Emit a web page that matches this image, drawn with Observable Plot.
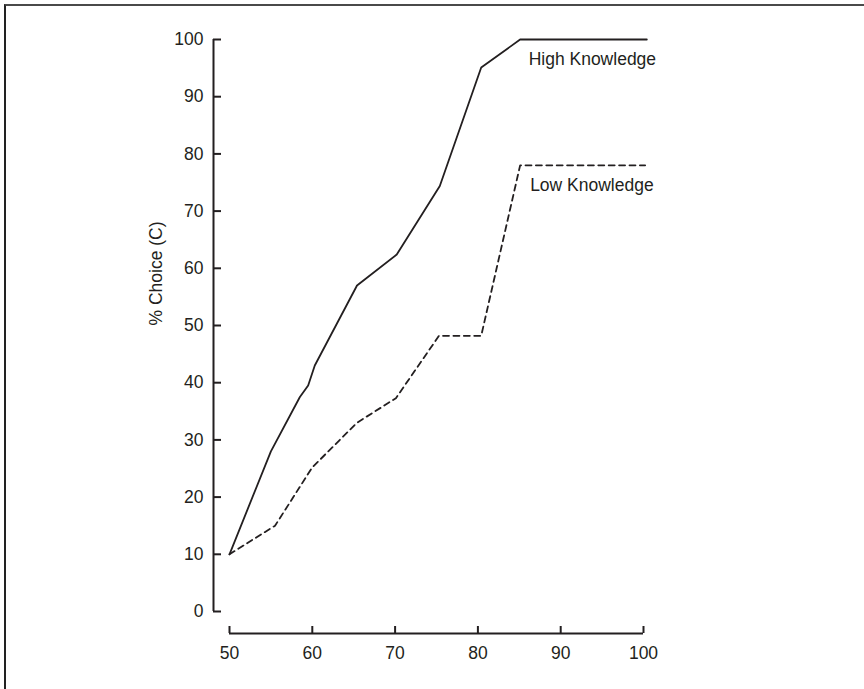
<!DOCTYPE html>
<html>
<head>
<meta charset="utf-8">
<script src="https://cdn.jsdelivr.net/npm/d3@7"></script>
<script src="https://cdn.jsdelivr.net/npm/@observablehq/plot@0.6"></script>
<style>
  html, body { margin: 0; padding: 0; background: #fff; }
  #wrap { position: relative; width: 864px; height: 689px; overflow: hidden; background: #fff; }
  #frame { position: absolute; left: 4px; top: 4px; width: 1000px; height: 1000px;
           border-top: 2px solid #4a4a4a; border-left: 2px solid #222; }
  #chart { position: absolute; left: 0; top: 0; }
</style>
</head>
<body>
<div id="wrap"><div id="frame"></div><div id="chart"></div></div>
<script>
// Data
const xTicks = [50, 60, 70, 80, 90, 100];
const yTicks = [0, 10, 20, 30, 40, 50, 60, 70, 80, 90, 100];
const yLabel = "% Choice (C)";

const highName = "High Knowledge";
const highX = [50, 55, 58.5, 59.5, 60.3, 65.4, 70.2, 75.4, 80.4, 85.1, 100.4];
const highY = [10, 28, 37.5, 39.5, 43, 57, 62.4, 74.4, 95.1, 100, 100];

const lowName = "Low Knowledge";
const lowX = [50, 55.5, 60, 65.4, 70.1, 75.3, 80.4, 85.1, 100.2];
const lowY = [10, 15, 25.2, 33, 37.3, 48.2, 48.2, 78, 78];

const high = highX.map((x, i) => ({x, y: highY[i]}));
const low = lowX.map((x, i) => ({x, y: lowY[i]}));
// label anchors: start of each plateau
const highLabel = [{name: highName, x: highX[9], y: highY[9]}];
const lowLabel = [{name: lowName, x: lowX[7], y: lowY[7]}];

const ink = "#231f20";
const font = "Liberation Sans, Arial, Helvetica, sans-serif";
const fs = 17.5;

const chart = Plot.plot({
  width: 864,
  height: 689,
  marginLeft: 229,
  marginRight: 221,
  marginTop: 39,
  marginBottom: 78,
  style: {fontFamily: font, fontSize: fs + "px", color: ink, background: "transparent"},
  x: {domain: [xTicks[0], xTicks[xTicks.length - 1]], axis: null},
  y: {domain: [yTicks[0], yTicks[yTicks.length - 1]], axis: null},
  marks: [
    // y axis (detached)
    Plot.ruleX([xTicks[0]], {y1: yTicks[0], y2: yTicks[yTicks.length - 1], dx: -16, stroke: ink, strokeWidth: 2}),
    Plot.axisY(yTicks, {anchor: "left", text: null, tickSize: -8, dx: -16, stroke: ink, strokeWidth: 2, label: null}),
    Plot.axisY(yTicks, {anchor: "left", tickSize: 0, tickPadding: 10, dx: -16, fill: ink, fontSize: fs, label: null}),
    Plot.text([yLabel], {frameAnchor: "left", rotate: -90, dx: -73.5, fill: ink, fontSize: fs}),
    // x axis (detached)
    Plot.ruleY([yTicks[0]], {x1: xTicks[0], x2: xTicks[xTicks.length - 1], dy: 22, stroke: ink, strokeWidth: 2}),
    Plot.axisX(xTicks, {anchor: "bottom", text: null, tickSize: -7, dy: 22, stroke: ink, strokeWidth: 2, label: null}),
    Plot.axisX(xTicks, {anchor: "bottom", tickSize: 0, tickPadding: 13, dy: 22, fill: ink, fontSize: fs, label: null}),
    // series
    Plot.line(high, {x: "x", y: "y", stroke: ink, strokeWidth: 1.8}),
    Plot.line(low, {x: "x", y: "y", stroke: ink, strokeWidth: 1.8, strokeDasharray: "6,4.4"}),
    Plot.text(highLabel, {x: "x", y: "y", text: "name", dx: 8.5, dy: 20, textAnchor: "start", fill: ink, fontSize: fs}),
    Plot.text(lowLabel, {x: "x", y: "y", text: "name", dx: 10, dy: 20, textAnchor: "start", fill: ink, fontSize: fs})
  ]
});
document.getElementById("chart").appendChild(chart);
</script>
</body>
</html>
